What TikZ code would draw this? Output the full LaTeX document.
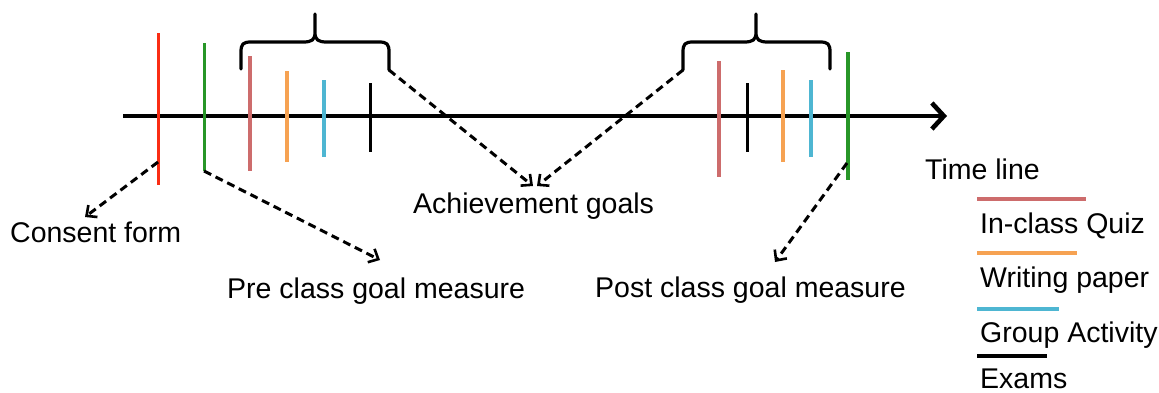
\documentclass[tikz,border=0pt]{standalone}
\usepackage{fontspec}
\setmainfont{Liberation Sans}
\usetikzlibrary{arrows.meta}

\definecolor{consentred}{RGB}{250,45,20}
\definecolor{goalgreen}{RGB}{40,150,40}
\definecolor{quizpink}{RGB}{205,108,108}
\definecolor{paperorange}{RGB}{246,162,82}
\definecolor{groupblue}{RGB}{78,182,210}

\begin{document}
\begin{tikzpicture}[x=1pt,y=-1pt,
  event/.style={line width=3.6pt},
  keyline/.style={line width=4.5pt},
  link/.style={dash pattern=on 8pt off 5pt, line width=3pt,
    -{Straight Barb[length=8pt,width=15pt,line width=2.6pt]}},
  bracket/.style={line width=3.2pt, line cap=round, line join=round},
  lbl/.style={font=\fontsize{28.5}{34}\selectfont, inner sep=0pt, anchor=base west}]
\useasboundingbox (0,0) rectangle (1159,392);

% time axis
\coordinate (axisStart) at (123,116);
\coordinate (axisEnd) at (947,116);
\draw[line width=4.6pt, -{Straight Barb[length=12pt,width=26pt,line width=4.6pt]}] (axisStart) -- (axisEnd);

% events before the course
\draw[event, consentred, line width=3pt] (158,33) coordinate (consentTop) -- (158,185) coordinate (consentBot);
\draw[event, goalgreen, line width=3pt] (204,43) coordinate (preTop) -- (204,171) coordinate (preBot);

% first block of course activities
\draw[event, quizpink] (250,56) -- (250,171);
\draw[event, paperorange] (287,71) -- (287,162);
\draw[event, groupblue] (324,80) -- (324,157);
\draw[event, black, line width=3pt] (370,83) -- (370,152);

% second block of course activities
\draw[event, quizpink] (719,61) -- (719,177);
\draw[event, black, line width=3pt] (747,83) -- (747,152);
\draw[event, paperorange] (783,70) -- (783,162);
\draw[event, groupblue] (811,80) -- (811,157);

% event after the course
\draw[event, goalgreen] (848,52) coordinate (postTop) -- (848,180) coordinate (postBot);

% brackets grouping the activities
\draw[bracket] (241,69) coordinate (braceAL) -- (241,52)
  .. controls (241,44) and (243,42) .. (251,42) -- (303,42)
  .. controls (312,42) and (315,40) .. (315,32) -- (315,14)
  -- (315,32) .. controls (315,40) and (318,42) .. (327,42) -- (379,42)
  .. controls (387,42) and (389,44) .. (389,52) -- (389,70) coordinate (braceAR);
\draw[bracket] (683,70) coordinate (braceBL) -- (683,52)
  .. controls (683,44) and (685,42) .. (693,42) -- (744,42)
  .. controls (753,42) and (756,40) .. (756,32) -- (756,14)
  -- (756,32) .. controls (756,40) and (759,42) .. (768,42) -- (820,42)
  .. controls (828,42) and (830,44) .. (830,52) -- (830,69) coordinate (braceBR);

% labels
\node[lbl] (consent) at (10,242) {Consent form};
\node[lbl] (pre) at (227,298) {Pre class goal measure};
\node[lbl] (achieve) at (413,213) {Achievement goals};
\node[lbl] (post) at (595,297) {Post class goal measure};
\node[lbl] (timeline) at (925,179) {Time line};

% arrow targets above the labels
\coordinate (consentTip) at (85,217);
\coordinate (preTip) at (380,260);
\coordinate (achieveTipA) at (533,186);
\coordinate (achieveTipB) at (537,186);
\coordinate (postTip) at (775,262);
\coordinate (consentFrom) at (158,162);
\coordinate (postFrom) at (847,163);

% dashed connectors
\draw[link] (consentFrom) -- (consentTip);
\draw[link] (preBot) -- (preTip);
\draw[link] (braceAR) -- (achieveTipA);
\draw[link] (braceBL) -- (achieveTipB);
\draw[link] (postFrom) -- (postTip);

% legend
\draw[keyline, quizpink] (977,199) coordinate (keyQuiz) -- (1086,199);
\node[lbl] (quiz) at (980,233) {In-class Quiz};
\draw[keyline, paperorange] (977,253) coordinate (keyPaper) -- (1077,253);
\node[lbl] (paper) at (980,287) {Writing paper};
\draw[keyline, groupblue] (977,309) coordinate (keyGroup) -- (1059,309);
\node[lbl] (group) at (980,342) {Group Activity};
\draw[keyline, black] (977,356) coordinate (keyExam) -- (1047,356);
\node[lbl] (exams) at (980,388) {Exams};
\end{tikzpicture}
\end{document}
